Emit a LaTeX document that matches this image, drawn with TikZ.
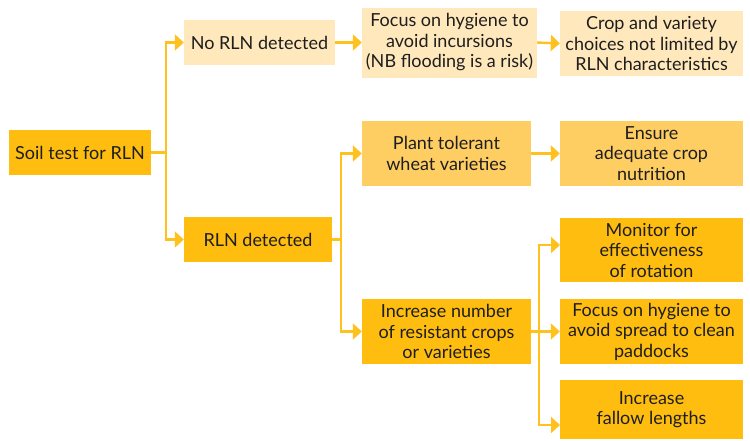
\documentclass[tikz,border=0pt]{standalone}
\usepackage{fontspec}
\setmainfont{Lato}
\usetikzlibrary{arrows.meta}
\definecolor{lightbox}{HTML}{FFE8BB}
\definecolor{midbox}{HTML}{FFCE62}
\definecolor{darkbox}{HTML}{FFBD10}
\definecolor{linkcol}{HTML}{FFC11E}
\definecolor{txtcol}{HTML}{1E1E1E}
\tikzset{
	box/.style={inner sep=0pt,align=center,text=txtcol,font=\fontsize{18}{20.5}\selectfont},
	lbox/.style={box,fill=lightbox},
	mbox/.style={box,fill=midbox},
	dbox/.style={box,fill=darkbox},
	link/.style={draw=linkcol,line width=2.4pt,->}
}
\begin{document}
\begin{tikzpicture}[line join=miter,>={Triangle[length=9pt,width=16pt]},x=1pt,y=-1pt]
		\useasboundingbox (0,0) rectangle (750,440);
		% boxes
		\node[dbox,minimum width=142,minimum height=45] (soil) at (80,152.5) {Soil test for RLN};
		\node[lbox,minimum width=151,minimum height=45] (norln) at (259.5,42.5) {No RLN detected};
		\node[dbox,minimum width=148,minimum height=45] (rln) at (258,239.5) {RLN detected};
		\node[lbox,minimum width=175,minimum height=70] (hygone) at (449.5,42.5) {Focus on hygiene to\\avoid incursions\\(NB flooding is a risk)};
		\node[lbox,minimum width=183,minimum height=65] (crop) at (651.5,43.5) {Crop and variety\\choices not limited by\\RLN characteristics};
		\node[mbox,minimum width=169,minimum height=65] (plant) at (446.5,153.5) {Plant tolerant\\wheat varieties};
		\node[mbox,minimum width=183,minimum height=65] (ensure) at (651.5,153.5) {Ensure\\adequate crop\\nutrition};
		\node[dbox,minimum width=169,minimum height=65] (incr) at (446.5,331.5) {Increase number\\of resistant crops\\or varieties};
		\node[dbox,minimum width=183,minimum height=64] (monitor) at (651.5,250) {Monitor for\\effectiveness\\of rotation};
		\node[dbox,minimum width=183,minimum height=65] (hygtwo) at (651.5,331.5) {Focus on hygiene to\\avoid spread to clean\\paddocks};
		\node[dbox,minimum width=183,minimum height=59] (fallow) at (651.5,409.5) {Increase\\fallow lengths};
		\coordinate (monin) at (560,245);
		\coordinate (fallowin) at (560,425);
		% connectors
		\draw[link] (soil.east) -- ++(15,0) |- (norln.west);
		\draw[link] (soil.east) -- ++(15,0) |- (rln.west);
		\draw[link] (norln.east) -- (hygone.west);
		\draw[link] (hygone.east) -- (crop.west);
		\draw[link] (rln.east) -- ++(9,0) |- (plant.west);
		\draw[link] (rln.east) -- ++(9,0) |- (incr.west);
		\draw[link] (plant.east) -- (ensure.west);
		\draw[link] (incr.east) -- ++(8,0) |- (monin);
		\draw[link] (incr.east) -- (hygtwo.west);
		\draw[link] (incr.east) -- ++(8,0) |- (fallowin);
	\end{tikzpicture}
\end{document}
